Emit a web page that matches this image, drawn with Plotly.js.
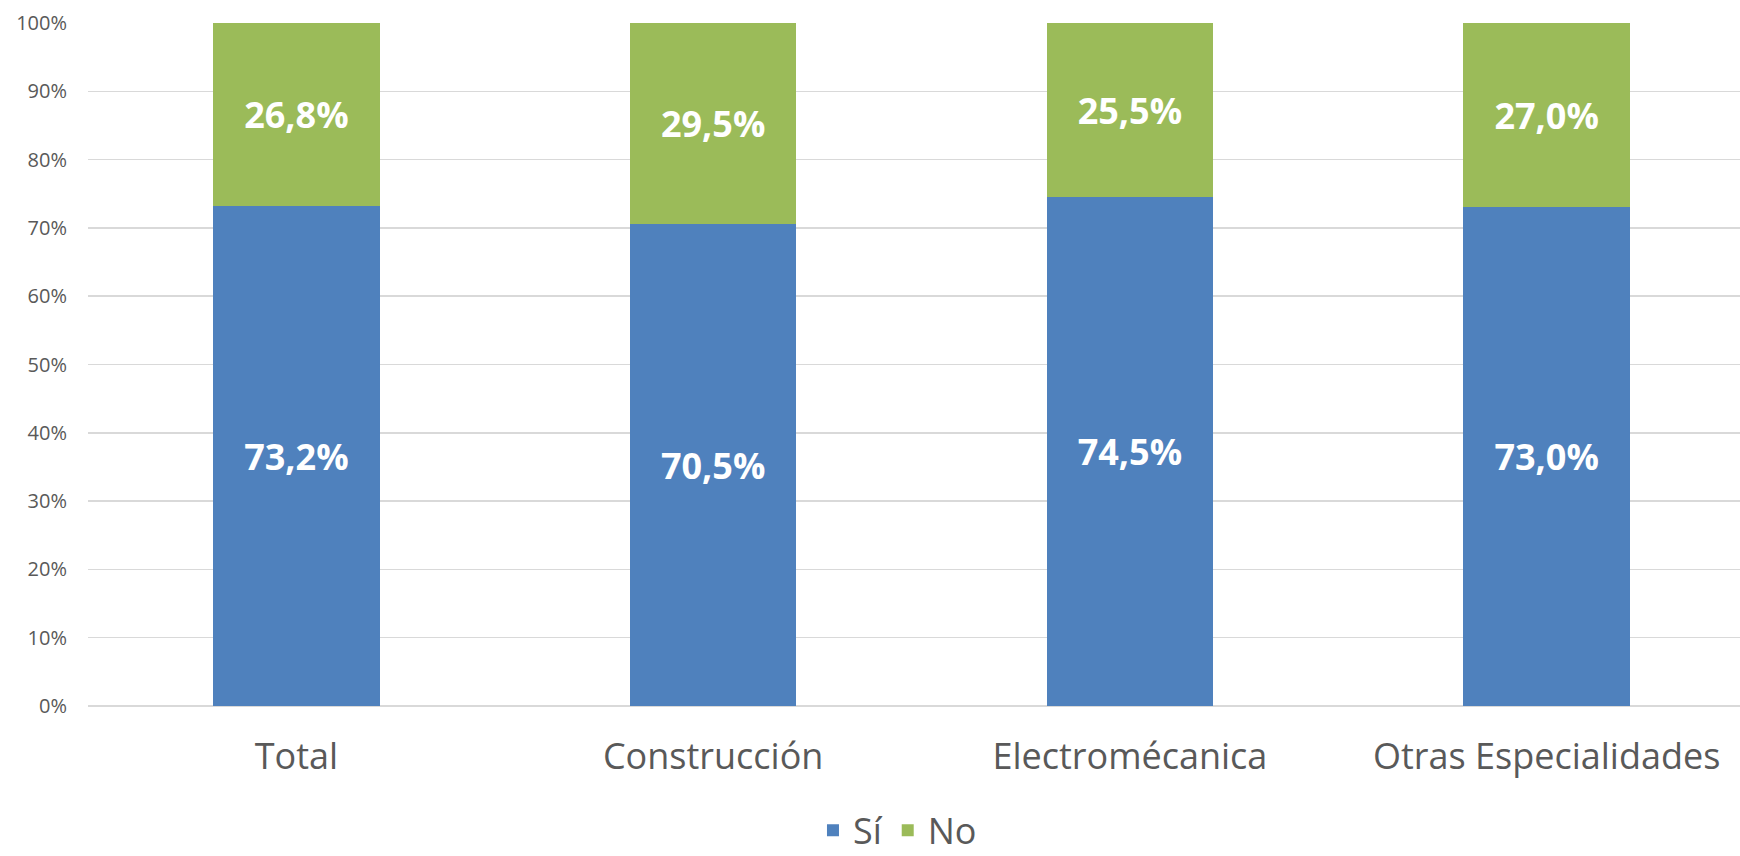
<!DOCTYPE html>
<html>
<head>
<meta charset="utf-8">
<script src="https://cdn.plot.ly/plotly-3.0.1.min.js"></script>
<style>html,body{margin:0;padding:0;background:#fff;}#chart{width:1740px;height:856px;}</style>
</head>
<body>
<div id="chart"></div>
<script>
var categories = ["Total", "Construcción", "Electromécanica", "Otras Especialidades"];
var si = [73.2, 70.5, 74.5, 73.0];
var no = [26.8, 29.5, 25.5, 27.0];
var seriesNames = ["Sí", "No"];
var yTicks = [0, 10, 20, 30, 40, 50, 60, 70, 80, 90, 100];
var yTickText = yTicks.map(function (v) { return v + "%"; });

var FONT = "Open Sans, Noto Sans, sans-serif";
var labelFont = {family: FONT, size: 36, color: "#ffffff", weight: "bold"};

var traces = [
  {
    type: "bar", name: seriesNames[0], x: categories, y: si,
    marker: {color: "#4F81BD", line: {width: 0}},
    texttemplate: "<b>%{y:.1f}%</b>", textposition: "inside", insidetextanchor: "middle",
    textangle: 0, textfont: labelFont, hoverinfo: "skip"
  },
  {
    type: "bar", name: seriesNames[1], x: categories, y: no,
    marker: {color: "#9BBB59", line: {width: 0}},
    texttemplate: "<b>%{y:.1f}%</b>", textposition: "inside", insidetextanchor: "middle",
    textangle: 0, textfont: labelFont, hoverinfo: "skip"
  }
];

var layout = {
  width: 1740, height: 856,
  barmode: "stack", bargap: 0.6,
  separators: ",.",
  paper_bgcolor: "#ffffff", plot_bgcolor: "#ffffff",
  margin: {l: 88, r: 0, t: 23, b: 150, pad: 0, autoexpand: false},
  font: {family: FONT, color: "#595959"},
  uniformtext: {mode: false},
  xaxis: {
    type: "category", range: [-0.5, 3.464], fixedrange: true, automargin: false,
    showgrid: false, zeroline: false, showline: false, ticks: "",
    tickfont: {family: FONT, size: 36, color: "#595959"},
    ticklabelstandoff: 26
  },
  yaxis: {
    range: [0, 100], tickmode: "array", tickvals: yTicks, ticktext: yTickText, automargin: false,
    showgrid: true, gridcolor: "#D9D9D9", gridwidth: 1.5,
    zeroline: true, zerolinecolor: "#D9D9D9", zerolinewidth: 1.5,
    showline: false, ticks: "",
    tickfont: {family: FONT, size: 20, color: "#595959"},
    ticklabelstandoff: 20
  },
  showlegend: true,
  legend: {
    orientation: "h", x: 0.49, xanchor: "center", y: -0.182, yanchor: "middle",
    font: {family: FONT, size: 36, color: "#595959"},
    itemwidth: 30, tracegroupgap: 0, traceorder: "normal"
  }
};

Plotly.newPlot("chart", traces, layout, {displayModeBar: false, staticPlot: true});
</script>
</body>
</html>
